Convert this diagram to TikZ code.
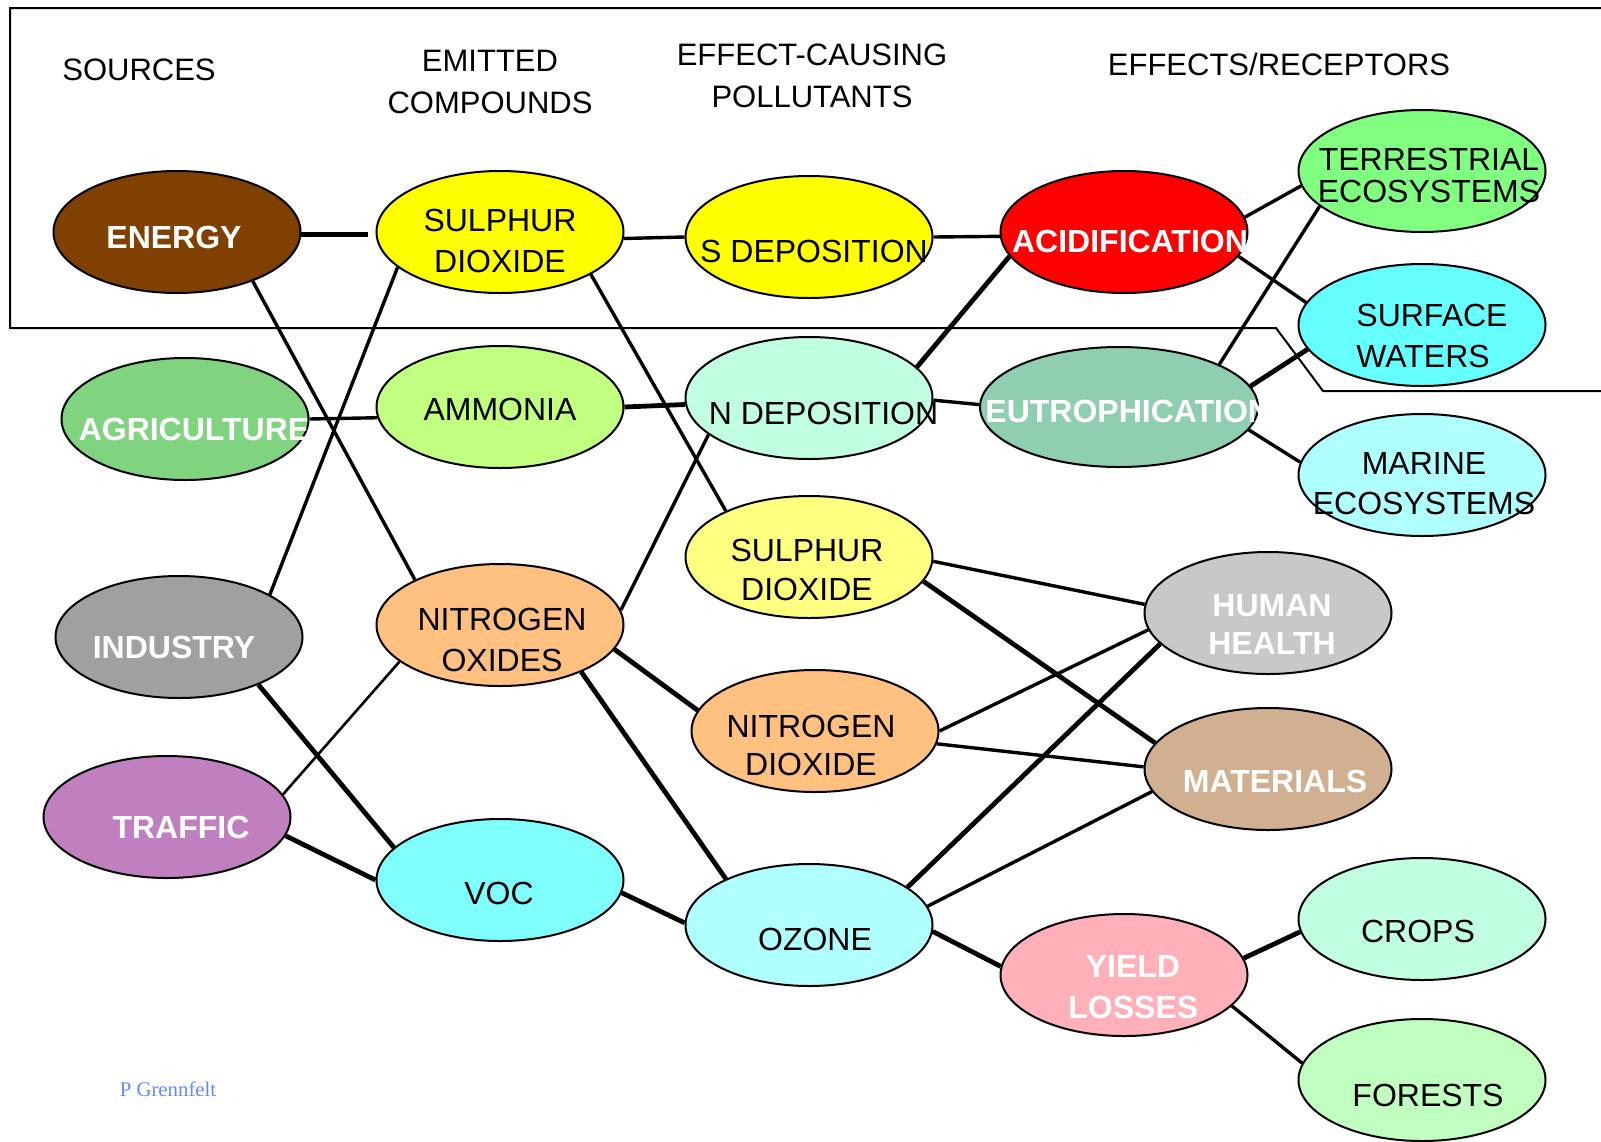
\documentclass[tikz,border=0pt]{standalone}
\usepackage{fontspec}
\setmainfont{Liberation Sans}
\newfontfamily\creditfont{Liberation Serif}
\usetikzlibrary{shapes.geometric}
\definecolor{cEnergy}{RGB}{128,64,0}
\definecolor{cYellow}{RGB}{255,255,0}
\definecolor{cRed}{RGB}{255,0,0}
\definecolor{cTerr}{RGB}{128,255,128}
\definecolor{cSurf}{RGB}{102,255,255}
\definecolor{cAgri}{RGB}{128,212,128}
\definecolor{cAmmo}{RGB}{192,255,128}
\definecolor{cNdep}{RGB}{192,255,224}
\definecolor{cEutro}{RGB}{144,206,176}
\definecolor{cMarine}{RGB}{176,255,255}
\definecolor{cSotwo}{RGB}{255,255,128}
\definecolor{cIndu}{RGB}{160,160,160}
\definecolor{cNox}{RGB}{255,192,128}
\definecolor{cHuman}{RGB}{200,200,200}
\definecolor{cMat}{RGB}{208,176,144}
\definecolor{cTraf}{RGB}{192,128,192}
\definecolor{cVoc}{RGB}{128,255,255}
\definecolor{cOzone}{RGB}{176,255,255}
\definecolor{cYield}{RGB}{255,176,184}
\definecolor{cCrops}{RGB}{192,255,224}
\definecolor{cForest}{RGB}{192,255,192}
\definecolor{cCredit}{RGB}{102,136,255}
\begin{document}
\begin{tikzpicture}[x=0.5pt,y=-0.5pt,
  ell/.style={ellipse, draw=black, line width=1pt, minimum width=123.5pt, minimum height=61pt, inner sep=0pt},
  blk/.style={text=black, font=\fontsize{16}{20.5}\selectfont, align=center, inner sep=0pt},
  wht/.style={text=white, font=\fontsize{16}{20.5}\selectfont\bfseries, align=center, inner sep=0pt},
  hdr/.style={text=black, font=\fontsize{15.5}{21}\selectfont, align=center, inner sep=0pt},
  thinlink/.style={line width=1.3pt},
  midlink/.style={line width=1.7pt},
  boldlink/.style={line width=2.4pt},
]
\useasboundingbox (0,0) rectangle (1601,1141);
\fill[white] (0,0) rectangle (1601,1141);
% frame
\draw[line width=1pt] (1601,8) -- (10,8) -- (10,328) -- (1276,328) -- (1323,391) -- (1601,391);
% headers
\node[hdr] (hsrc) at (139,70) {SOURCES};
\node[hdr] (hemit) at (490,82) {EMITTED\\COMPOUNDS};
\node[hdr] (heff) at (812,75.5) {EFFECT-CAUSING\\POLLUTANTS};
\node[hdr] (hrec) at (1279,64) {EFFECTS/RECEPTORS};
% ellipses
\node[ell, fill=cEnergy] (energy) at (177,232) {};
\node[ell, fill=cYellow] (so2e) at (500,232) {};
\node[ell, fill=cYellow] (sdep) at (809,237) {};
\node[ell, fill=cRed] (acid) at (1124,232) {};
\node[ell, fill=cTerr] (terr) at (1422,171) {};
\node[ell, fill=cSurf] (surf) at (1422,325) {};
\node[ell, fill=cAgri] (agri) at (185,419) {};
\node[ell, fill=cAmmo] (ammo) at (500,407) {};
\node[ell, fill=cNdep] (ndep) at (809,398) {};
\node[ell, fill=cEutro, minimum width=139pt, minimum height=60pt] (eutro) at (1119,407) {};
\node[ell, fill=cMarine] (marine) at (1422,475) {};
\node[ell, fill=cSotwo] (so2p) at (809,557) {};
\node[ell, fill=cIndu] (indu) at (179,637) {};
\node[ell, fill=cNox] (nox) at (500,625) {};
\node[ell, fill=cHuman] (human) at (1268,613) {};
\node[ell, fill=cNox] (no2) at (815,731) {};
\node[ell, fill=cMat] (mat) at (1268,769) {};
\node[ell, fill=cTraf] (traf) at (167,817) {};
\node[ell, fill=cVoc] (voc) at (500,880) {};
\node[ell, fill=cOzone] (ozone) at (809,925) {};
\node[ell, fill=cYield] (yield) at (1124,975) {};
\node[ell, fill=cCrops] (crops) at (1422,919) {};
\node[ell, fill=cForest] (forests) at (1422,1080) {};
% connectors
\draw[boldlink, shorten >=4pt] (energy.-1) -- (so2e.181);
\draw[midlink] (so2e.-3) -- (sdep.180.5);
\draw[midlink] (sdep.-0.5) -- (acid.182.7);
\draw[midlink] (acid.7.5) -- (terr.187.3);
\draw[midlink] (acid.-12.3) -- (surf.169.2);
\draw[midlink] (eutro.23.9) -- (terr.199.4);
\draw[boldlink] (eutro.9.1) -- (surf.192);
\draw[midlink] (eutro.-10.9) -- (marine.174);
\draw[boldlink] (ndep.16.1) -- (acid.192);
\draw[midlink] (ndep.-1.4) -- (eutro.179.6);
\draw[midlink] (energy.-33.9) -- (nox.152.9);
\draw[midlink] (so2e.199.9) -- (indu.25.8);
\draw[midlink] (agri.0) -- (ammo.185.6);
\draw[boldlink] (ammo.0.5) -- (ndep.183.7);
\draw[midlink] (so2e.-25.6) -- (so2p.151.9);
\draw[midlink] (nox.7) -- (ndep.200);
\draw[boldlink] (nox.-12) -- (no2.170.8);
\draw[boldlink] (nox.-30.5) -- (ozone.151.9);
\draw[boldlink] (indu.-31.2) -- (voc.163.7);
\draw[thinlink] (traf.11.6) -- (nox.200);
\draw[boldlink] (traf.-9.5) -- (voc.180);
\draw[boldlink] (voc.-6.9) -- (ozone.179.5);
\draw[midlink] (so2p.-2.7) -- (human.176.3);
\draw[boldlink] (so2p.-12.6) -- (mat.167.5);
\draw[midlink] (no2.0.5) -- (human.188.6);
\draw[midlink] (no2.-6.1) -- (mat.179.5);
\draw[boldlink] (ozone.21.7) -- (human.196.4);
\draw[midlink] (ozone.9.8) -- (mat.191.4);
\draw[boldlink] (ozone.-3.3) -- (yield.176.3);
\draw[boldlink] (yield.8.7) -- (crops.186.4);
\draw[midlink] (yield.-16.9) -- (forests.172.1);
% labels
\node[wht] (energy-t) at (174,237) {ENERGY};
\node[blk] (so2e-t) at (500,241) {SULPHUR\\DIOXIDE};
\node[blk] (sdep-t) at (814,251) {S DEPOSITION};
\node[wht] (acid-t) at (1130,241) {ACIDIFICATION};
\node[blk, font=\fontsize{16}{15.8}\selectfont] (terr-t) at (1429,175.5) {TERRESTRIAL\\ECOSYSTEMS};
\node[blk, align=left, anchor=west] (surf-t) at (1356,335.5) {SURFACE\\WATERS};
\node[wht] (agri-t) at (194,429) {AGRICULTURE};
\node[blk] (ammo-t) at (500,409) {AMMONIA};
\node[blk] (ndep-t) at (823.5,413.5) {N DEPOSITION};
\node[wht, anchor=west] (eutro-t) at (985,411.5) {EUTROPHICATION};
\node[blk, font=\fontsize{16}{20}\selectfont] (marine-t) at (1424,483.5) {MARINE\\ECOSYSTEMS};
\node[blk, font=\fontsize{16}{19.5}\selectfont] (so2p-t) at (807,569.5) {SULPHUR\\DIOXIDE};
\node[wht] (indu-t) at (174,647) {INDUSTRY};
\node[blk] (nox-t) at (502,640) {NITROGEN\\OXIDES};
\node[wht, font=\fontsize{16}{19}\selectfont\bfseries] (human-t) at (1272,624) {HUMAN\\HEALTH};
\node[blk, font=\fontsize{16}{19}\selectfont] (no2-t) at (811,745) {NITROGEN\\DIOXIDE};
\node[wht] (mat-t) at (1275,781) {MATERIALS};
\node[wht] (traf-t) at (181,827) {TRAFFIC};
\node[blk] (voc-t) at (499,893) {VOC};
\node[blk] (ozone-t) at (815,939) {OZONE};
\node[wht, align=left, anchor=west] (yield-t) at (1068,987) {\hspace*{8.7pt}YIELD\\LOSSES};
\node[blk] (crops-t) at (1418,931) {CROPS};
\node[blk] (forests-t) at (1428,1095.5) {FORESTS};
\node[text=cCredit, font=\creditfont\fontsize{10.4}{12}\selectfont, inner sep=0pt] (credit) at (168,1089) {P Grennfelt};
\end{tikzpicture}
\end{document}
